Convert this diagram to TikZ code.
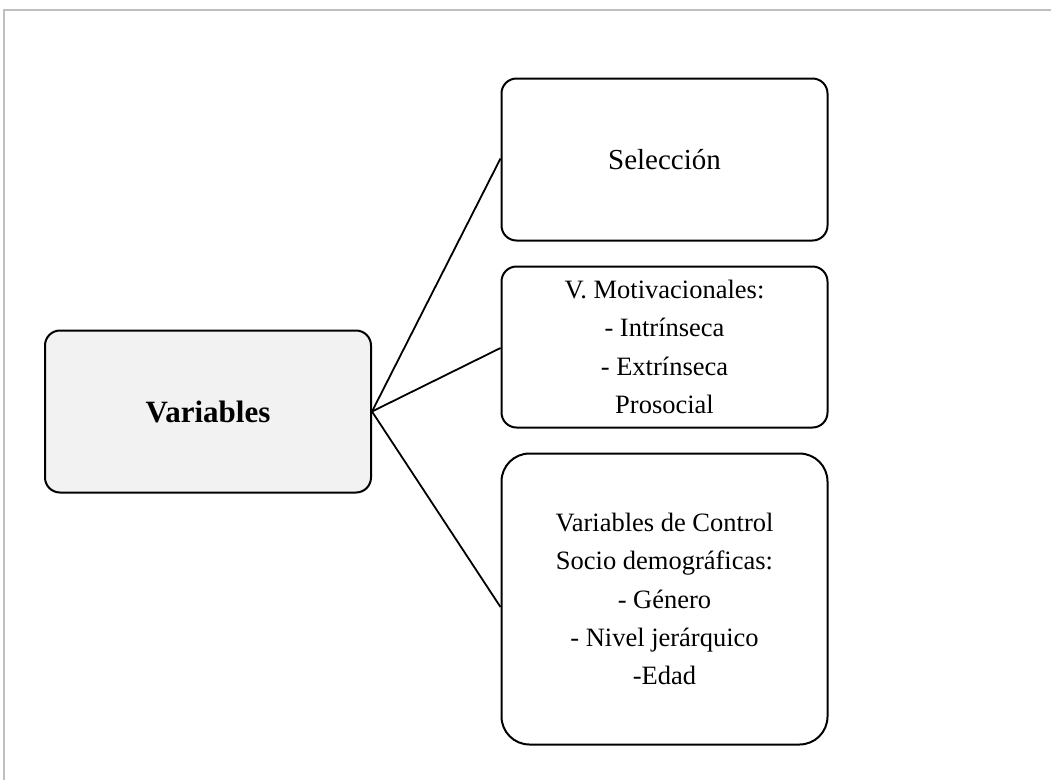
\documentclass[tikz,border=0pt]{standalone}
\usepackage{fontspec}
\setmainfont{Liberation Serif}
\definecolor{framegray}{HTML}{BFBFBF}
\definecolor{varfill}{HTML}{F2F2F2}
\begin{document}
\begin{tikzpicture}[x=1pt,y=-1pt,
  box/.style={draw=black, line width=2pt, rounded corners=15pt, minimum width=326pt,
    inner sep=0pt, align=center, fill=white,
    font={\fontsize{26.5pt}{38.3pt}\selectfont}},
  conn/.style={draw=black, line width=1.8pt},
  framebar/.style={draw=framegray, line width=2pt}]
\useasboundingbox (0,0) rectangle (1051,780);
\draw[framebar] (3.5,780) -- (3.5,9.5) -- (1051,9.5);
\node[box, fill=varfill, minimum height=162pt, font={\fontsize{31pt}{38pt}\selectfont\bfseries}] (var) at (208,411.5) {Variables};
\node[box, minimum height=162pt, font={\fontsize{29pt}{38pt}\selectfont}] (sel) at (664.5,159.5) {Selección};
\node[box, minimum height=161pt] (mot) at (664.5,347) {V. Motivacionales:\\- Intrínseca\\- Extrínseca\\Prosocial};
\node[box, minimum height=291pt, rounded corners=28pt] (ctl) at (664.5,599) {Variables de Control\\Socio demográficas:\\- Género\\- Nivel jerárquico\\-Edad};
\draw[conn] (var.east) -- ([yshift=1pt]sel.west);
\draw[conn] (var.east) -- ([yshift=-1pt]mot.west);
\draw[conn] (var.east) -- ([yshift=-8pt]ctl.west);
\end{tikzpicture}
\end{document}
